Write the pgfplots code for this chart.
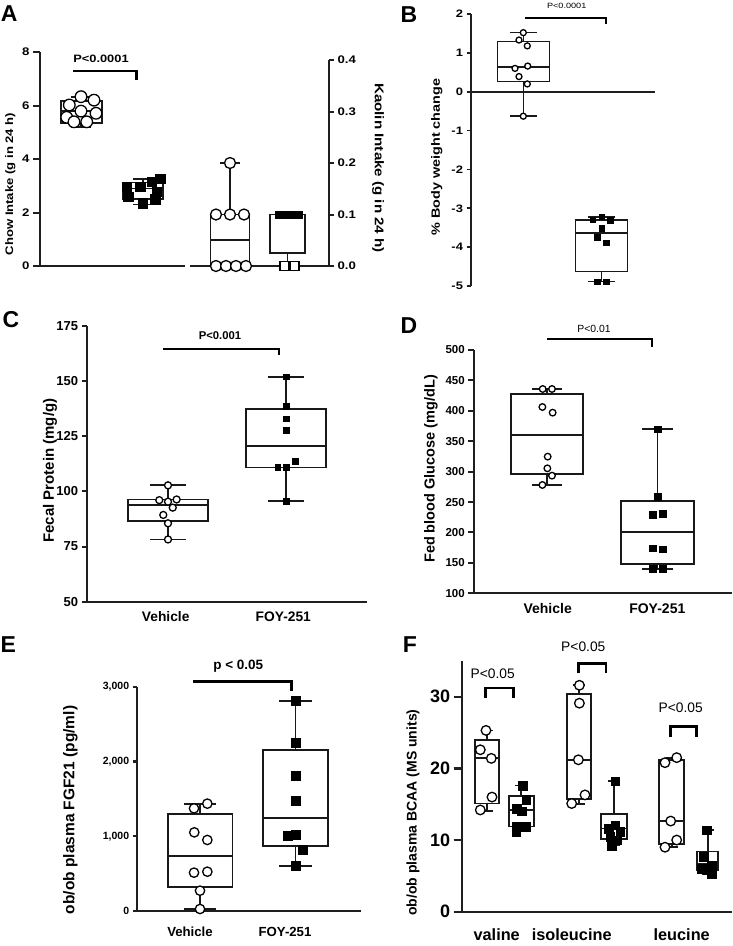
\documentclass[border=0pt]{standalone}
\usepackage{fontspec}
\setmainfont{Liberation Sans}
\newfontfamily\widefont[FakeStretch=1.2]{Liberation Sans}
\usepackage{pgfplots}
\pgfplotsset{compat=1.18}
\usepgfplotslibrary{statistics}
\newcommand{\fs}[1]{\fontsize{#1}{#1}\selectfont}
\pgfplotsset{
  panel/.style={scale only axis, clip=false, anchor=south west,
    axis x line*=bottom, axis y line*=left,
    axis line style={line width=2pt, black!88, -},
    xtick=\empty, tick align=outside,
    ytick style={line width=2pt, black!88},
    /pgf/number format/assume math mode=true,
    boxplot/draw direction=y},
  bx/.style={black!90, line width=1.8pt, solid},
  circ/.style={only marks, mark=*, mark size=#1, mark options={fill=white, draw=black, line width=1.3pt}},
  sq/.style={only marks, mark=square*, mark size=#1, mark options={fill=black, draw=black, line width=0.4pt}},
  brk/.style={black, line width=#1, line join=miter, line cap=butt, no marks},
}
\begin{document}
\begin{tikzpicture}
\path[use as bounding box] (0pt,0pt) rectangle (733pt,-946pt);

% ---------------- Panel A ----------------
\begin{axis}[panel, at={(40pt,-266pt)}, width=289pt, height=214pt,
  xmin=0, xmax=28.9, ymin=0, ymax=8, axis x line=none,
  ytick={0,2,4,6,8}, yticklabels={0,2,4,6,8}, major tick length=7pt,
  yticklabel style={font=\widefont\bfseries\fs{11}}]
\addplot[black!88, line width=2pt] coordinates {(0,0) (14.5,0)};
\addplot[black!88, line width=2pt] coordinates {(15,0) (28.9,0)};
\addplot[bx, boxplot prepared={draw position=4.13, lower whisker=5.2, lower quartile=5.36, median=5.79, upper quartile=6.17, upper whisker=6.33, box extend=4.13, whisker extend=2}] coordinates {};
\addplot[bx, boxplot prepared={draw position=10.3, lower whisker=2.3, lower quartile=2.51, median=2.9, upper quartile=3.12, upper whisker=3.25, box extend=4.06, whisker extend=2}] coordinates {};
\addplot[circ=5.8] coordinates {(4.1,6.33) (5.4,6.2) (2.93,6.02) (4.1,5.79) (5.6,5.71) (2.67,5.56) (3.4,5.39) (4.67,5.39)};
\addplot[sq=4.7] coordinates {(12.0,3.26) (11.17,3.16) (8.67,2.97) (10.0,2.97) (11.67,2.78) (8.83,2.6) (11.5,2.5) (10.27,2.35)};
\addplot[brk=2.7pt] coordinates {(3.33,7.29) (9.67,7.29) (9.67,6.95)};
\end{axis}
\begin{axis}[panel, at={(40pt,-266pt)}, width=289pt, height=206pt,
  xmin=0, xmax=28.9, ymin=0, ymax=0.4, axis x line=none, axis y line*=right,
  ytick={0,0.1,0.2,0.3,0.4}, yticklabels={0.0,0.1,0.2,0.3,0.4}, major tick length=5pt,
  yticklabel style={font=\widefont\bfseries\fs{11}}]
\addplot[bx, boxplot prepared={draw position=19.0, lower whisker=0, lower quartile=0, median=0.05, upper quartile=0.1, upper whisker=0.2, box extend=3.9, whisker extend=2}] coordinates {};
\addplot[bx, boxplot prepared={draw position=24.75, lower whisker=0, lower quartile=0.025, median=0.1, upper quartile=0.1, upper whisker=0.1, box extend=3.5, whisker extend=2}] coordinates {};
\addplot[circ=5.5] coordinates {(17.6,0.1) (19.0,0.1) (20.4,0.1) (17.6,0) (18.6,0) (19.6,0) (20.6,0) (19.0,0.2)};
\addplot[sq=3.4] coordinates {(23.83,0.1) (24.5,0.1) (25.17,0.1) (25.83,0.1)};
\addplot[only marks, mark=square*, mark size=4.5, mark options={fill=white, draw=black, line width=1.2pt}] coordinates {(24.45,0) (25.45,0)};
\end{axis}
\node[font=\bfseries\fs{23}] at (9.2pt,-13.3pt) {A};
\node[font=\widefont\bfseries\fs{10.9}, rotate=90] at (10.3pt,-184pt) {Chow Intake (g in 24 h)};
\node[font=\widefont\bfseries\fs{12.6}, rotate=-90] at (378pt,-168pt) {Kaolin Intake (g in 24 h)};
\node[font=\widefont\bfseries\fs{10.7}] at (101pt,-58.8pt) {P<0.0001};

% ---------------- Panel B ----------------
\begin{axis}[panel, at={(471pt,-286pt)}, width=184pt, height=272pt,
  xmin=0, xmax=18.4, ymin=-5, ymax=2, axis x line=none,
  axis line style={line width=1.7pt, black!88, -}, ytick style={line width=1.7pt, black!88},
  ytick={-5,-4,-3,-2,-1,0,1,2}, yticklabels={-5,-4,-3,-2,-1,0,1,2}, major tick length=4.5pt,
  yticklabel style={font=\widefont\bfseries\fs{10.8}}]
\addplot[black!88, line width=1.7pt] coordinates {(0,0) (18.4,0)};
\addplot[bx, line width=1.5pt, boxplot prepared={draw position=5.23, lower whisker=-0.63, lower quartile=0.257, median=0.63, upper quartile=1.29, upper whisker=1.52, box extend=5.2, whisker extend=2.67}] coordinates {};
\addplot[bx, line width=1.5pt, boxplot prepared={draw position=13.07, lower whisker=-4.89, lower quartile=-4.63, median=-3.63, upper quartile=-3.30, upper whisker=-3.22, box extend=5.2, whisker extend=2.67}] coordinates {};
\addplot[circ=3] coordinates {(5.23,1.52) (4.8,1.33) (5.63,1.18) (4.4,0.6) (5.67,0.66) (4.8,0.39) (5.63,0.2) (5.23,-0.63)};
\addplot[sq=2.8] coordinates {(12.17,-3.29) (13.07,-3.22) (13.9,-3.30) (13.07,-3.52) (12.63,-3.75) (13.5,-3.89) (12.63,-4.89) (13.5,-4.89)};
\addplot[brk=2pt] coordinates {(5.4,1.91) (13.5,1.91) (13.5,1.74)};
\end{axis}
\node[font=\bfseries\fs{23}] at (409pt,-15pt) {B};
\node[font=\widefont\bfseries\fs{12}, rotate=90] at (436.7pt,-157pt) {\% Body weight change};
\node[font=\widefont\fs{7.6}] at (566.7pt,-6.3pt) {P<0.0001};

% ---------------- Panel C ----------------
\begin{axis}[panel, at={(87.3pt,-601.7pt)}, width=279.4pt, height=276pt,
  xmin=0.316, xmax=2.684, ymin=50, ymax=175,
  ytick={50,75,100,125,150,175}, yticklabels={50,75,100,125,150,175}, major tick length=5.7pt,
  yticklabel style={font=\bfseries\fs{13}}]
\addplot[bx, boxplot prepared={draw position=1, lower whisker=78.2, lower quartile=86.4, median=93.9, upper quartile=96.3, upper whisker=102.7, box extend=0.672, whisker extend=0.3}] coordinates {};
\addplot[bx, boxplot prepared={draw position=2, lower whisker=95.7, lower quartile=110.8, median=120.6, upper quartile=137.4, upper whisker=151.9, box extend=0.672, whisker extend=0.3}] coordinates {};
\addplot[circ=3.5] coordinates {(1.0,102.7) (0.926,96.0) (1.073,96.3) (1.0,95.3) (1.04,92.6) (0.96,89.3) (1.0,85.5) (1.0,78.2)};
\addplot[sq=2.9] coordinates {(2,151.9) (2,138.6) (2,132.9) (2,127.7) (2.076,113.7) (1.93,110.8) (2,110.8) (2,95.7)};
\addplot[brk=2pt] coordinates {(0.96,164.3) (1.943,164.3) (1.943,161.7)};
\end{axis}
\node[font=\bfseries\fs{23}] at (11pt,-320pt) {C};
\node[font=\bfseries\fs{15}, rotate=90] at (50pt,-470.7pt) {Fecal Protein (mg/g)};
\node[font=\bfseries\fs{13.8}] at (165.7pt,-616.7pt) {Vehicle};
\node[font=\bfseries\fs{13.8}] at (283.3pt,-616.7pt) {FOY-251};
\node[font=\bfseries\fs{11.3}] at (220pt,-336pt) {P<0.001};

% ---------------- Panel D ----------------
\begin{axis}[panel, at={(474.3pt,-593.3pt)}, width=257.4pt, height=243.3pt,
  xmin=0.342, xmax=2.671, ymin=100, ymax=500,
  ytick={100,150,200,250,300,350,400,450,500}, yticklabels={100,150,200,250,300,350,400,450,500}, major tick length=6pt,
  yticklabel style={font=\bfseries\fs{11.5}}]
\addplot[bx, boxplot prepared={draw position=1, lower whisker=278.6, lower quartile=296.2, median=360.3, upper quartile=428.2, upper whisker=435.9, box extend=0.658, whisker extend=0.28}] coordinates {};
\addplot[bx, boxplot prepared={draw position=2, lower whisker=140.5, lower quartile=148.2, median=201.4, upper quartile=251.8, upper whisker=369.6, box extend=0.658, whisker extend=0.28}] coordinates {};
\addplot[circ=3.3] coordinates {(0.961,435.9) (1.045,435.9) (0.958,406.3) (1.051,397.0) (1.006,324.7) (1.003,305.5) (1.045,293.4) (0.958,278.1)};
\addplot[sq=3.3] coordinates {(2.0,369.6) (2.0,258.9) (1.956,228.8) (2.047,230.4) (1.956,174.0) (2.047,172.3) (1.956,140.5) (2.047,140.5)};
\addplot[brk=2pt] coordinates {(1.003,517.5) (1.947,517.5) (1.947,504.4)};
\end{axis}
\node[font=\bfseries\fs{23}] at (409pt,-326pt) {D};
\node[font=\bfseries\fs{14.5}, rotate=90] at (431pt,-469pt) {Fed blood Glucose (mg/dL)};
\node[font=\bfseries\fs{14}] at (547.7pt,-608.3pt) {Vehicle};
\node[font=\bfseries\fs{14}] at (657.3pt,-608.3pt) {FOY-251};
\node[font=\fs{10.4}] at (594pt,-329pt) {P<0.01};

% ---------------- Panel E ----------------
\begin{axis}[panel, at={(136.7pt,-911pt)}, width=224.3pt, height=224.3pt,
  xmin=0.332, xmax=2.688, ymin=0, ymax=3000,
  axis line style={line width=2.3pt, black!88, -}, ytick style={line width=2.3pt, black!88},
  ytick={0,1000,2000,3000}, yticklabels={0,{1,000},{2,000},{3,000}}, major tick length=4pt,
  yticklabel style={font=\bfseries\fs{10.5}}]
\addplot[bx, boxplot prepared={draw position=1, lower whisker=27, lower quartile=325, median=740, upper quartile=1297, upper whisker=1436, box extend=0.676, whisker extend=0.34}] coordinates {};
\addplot[bx, boxplot prepared={draw position=2, lower whisker=602, lower quartile=869, median=1239, upper quartile=2153, upper whisker=2813, box extend=0.676, whisker extend=0.34}] coordinates {};
\addplot[circ=4.7] coordinates {(0.934,1373) (1.074,1436) (0.937,1052) (1.074,950) (0.934,513) (1.074,526) (0.997,272) (0.997,27)};
\addplot[sq=4.5] coordinates {(2,2813) (2,2251) (2,1810) (2,1471) (1.916,1008) (2,1016) (2.077,825) (2,602)};
\addplot[brk=3pt] coordinates {(0.927,3067) (1.96,3067) (1.96,2942)};
\end{axis}
\node[font=\bfseries\fs{23}] at (8.3pt,-645pt) {E};
\node[font=\bfseries\fs{15.5}, rotate=90] at (70.5pt,-810pt) {ob/ob plasma FGF21 (pg/ml)};
\node[font=\bfseries\fs{13.2}] at (190pt,-931.7pt) {Vehicle};
\node[font=\bfseries\fs{13.2}] at (285pt,-931.7pt) {FOY-251};
\node[font=\bfseries\fs{13.5}] at (238.3pt,-666pt) {p < 0.05};

% ---------------- Panel F ----------------
\begin{axis}[panel, at={(461.7pt,-911.7pt)}, width=270pt, height=250.8pt,
  xmin=0, xmax=27, ymin=0, ymax=35,
  axis line style={line width=2.3pt, black!88, -}, ytick style={line width=2.3pt, black!88},
  ytick={0,10,20,30}, yticklabels={0,10,20,30}, major tick length=8pt,
  yticklabel style={font=\bfseries\fs{18}}]
\addplot[bx, boxplot prepared={draw position=2.5, lower whisker=14.0, lower quartile=15.1, median=21.5, upper quartile=24.0, upper whisker=25.3, box extend=2.4, whisker extend=1.2}] coordinates {};
\addplot[bx, boxplot prepared={draw position=5.95, lower whisker=11.2, lower quartile=11.9, median=14.2, upper quartile=16.2, upper whisker=17.6, box extend=2.5, whisker extend=1.2}] coordinates {};
\addplot[bx, boxplot prepared={draw position=11.75, lower whisker=15.0, lower quartile=15.7, median=21.2, upper quartile=30.4, upper whisker=31.6, box extend=2.37, whisker extend=1.2}] coordinates {};
\addplot[bx, boxplot prepared={draw position=15.2, lower whisker=9.3, lower quartile=10.1, median=11.6, upper quartile=13.6, upper whisker=18.2, box extend=2.6, whisker extend=1.2}] coordinates {};
\addplot[bx, boxplot prepared={draw position=21.0, lower whisker=9.0, lower quartile=9.5, median=12.65, upper quartile=21.2, upper whisker=21.5, box extend=2.47, whisker extend=1.2}] coordinates {};
\addplot[bx, boxplot prepared={draw position=24.6, lower whisker=5.3, lower quartile=5.8, median=6.7, upper quartile=8.4, upper whisker=11.4, box extend=2.1, whisker extend=1.2}] coordinates {};
\addplot[circ=4.8] coordinates {(2.43,25.3) (1.86,22.6) (2.96,21.4) (3.03,16.0) (1.86,14.2)
  (11.77,31.6) (11.77,29.1) (11.67,21.2) (12.33,16.3) (11.0,15.1)
  (20.33,20.8) (21.5,21.5) (20.9,12.65) (21.5,10.0) (20.33,9.0)};
\addplot[sq=4.3] coordinates {(6.1,17.6) (6.43,15.6) (5.5,14.4) (6.0,14.0) (5.5,11.9) (6.43,11.9) (5.43,11.2)
  (15.33,18.2) (15.33,12.1) (14.67,11.6) (15.83,11.2) (14.83,10.5) (15.5,10.0) (15.0,9.2)
  (24.5,11.4) (24.17,7.7) (25.0,6.5) (24.53,5.9) (24.0,6.0) (25.0,5.3)};
\addplot[brk=2.7pt] coordinates {(2.36,29.8) (2.36,31.2) (5.16,31.2) (5.16,29.8)};
\addplot[brk=2.7pt] coordinates {(11.66,33.3) (11.66,34.65) (14.43,34.65) (14.43,33.3)};
\addplot[brk=2.7pt] coordinates {(20.9,24.4) (20.9,25.8) (23.5,25.8) (23.5,24.4)};
\end{axis}
\node[font=\bfseries\fs{23}] at (410pt,-645pt) {F};
\node[font=\bfseries\fs{14}, rotate=90] at (413pt,-812.5pt) {ob/ob plasma BCAA (MS units)};
\node[font=\bfseries\fs{16.3}] at (496.7pt,-935pt) {valine};
\node[font=\bfseries\fs{16.3}] at (571.7pt,-935pt) {isoleucine};
\node[font=\bfseries\fs{16.3}] at (681.7pt,-935pt) {leucine};
\node[font=\fs{13.8}] at (492.7pt,-673.3pt) {P<0.05};
\node[font=\fs{13.8}] at (583.3pt,-646.7pt) {P<0.05};
\node[font=\fs{13.8}] at (680.7pt,-707.3pt) {P<0.05};
\end{tikzpicture}
\end{document}
